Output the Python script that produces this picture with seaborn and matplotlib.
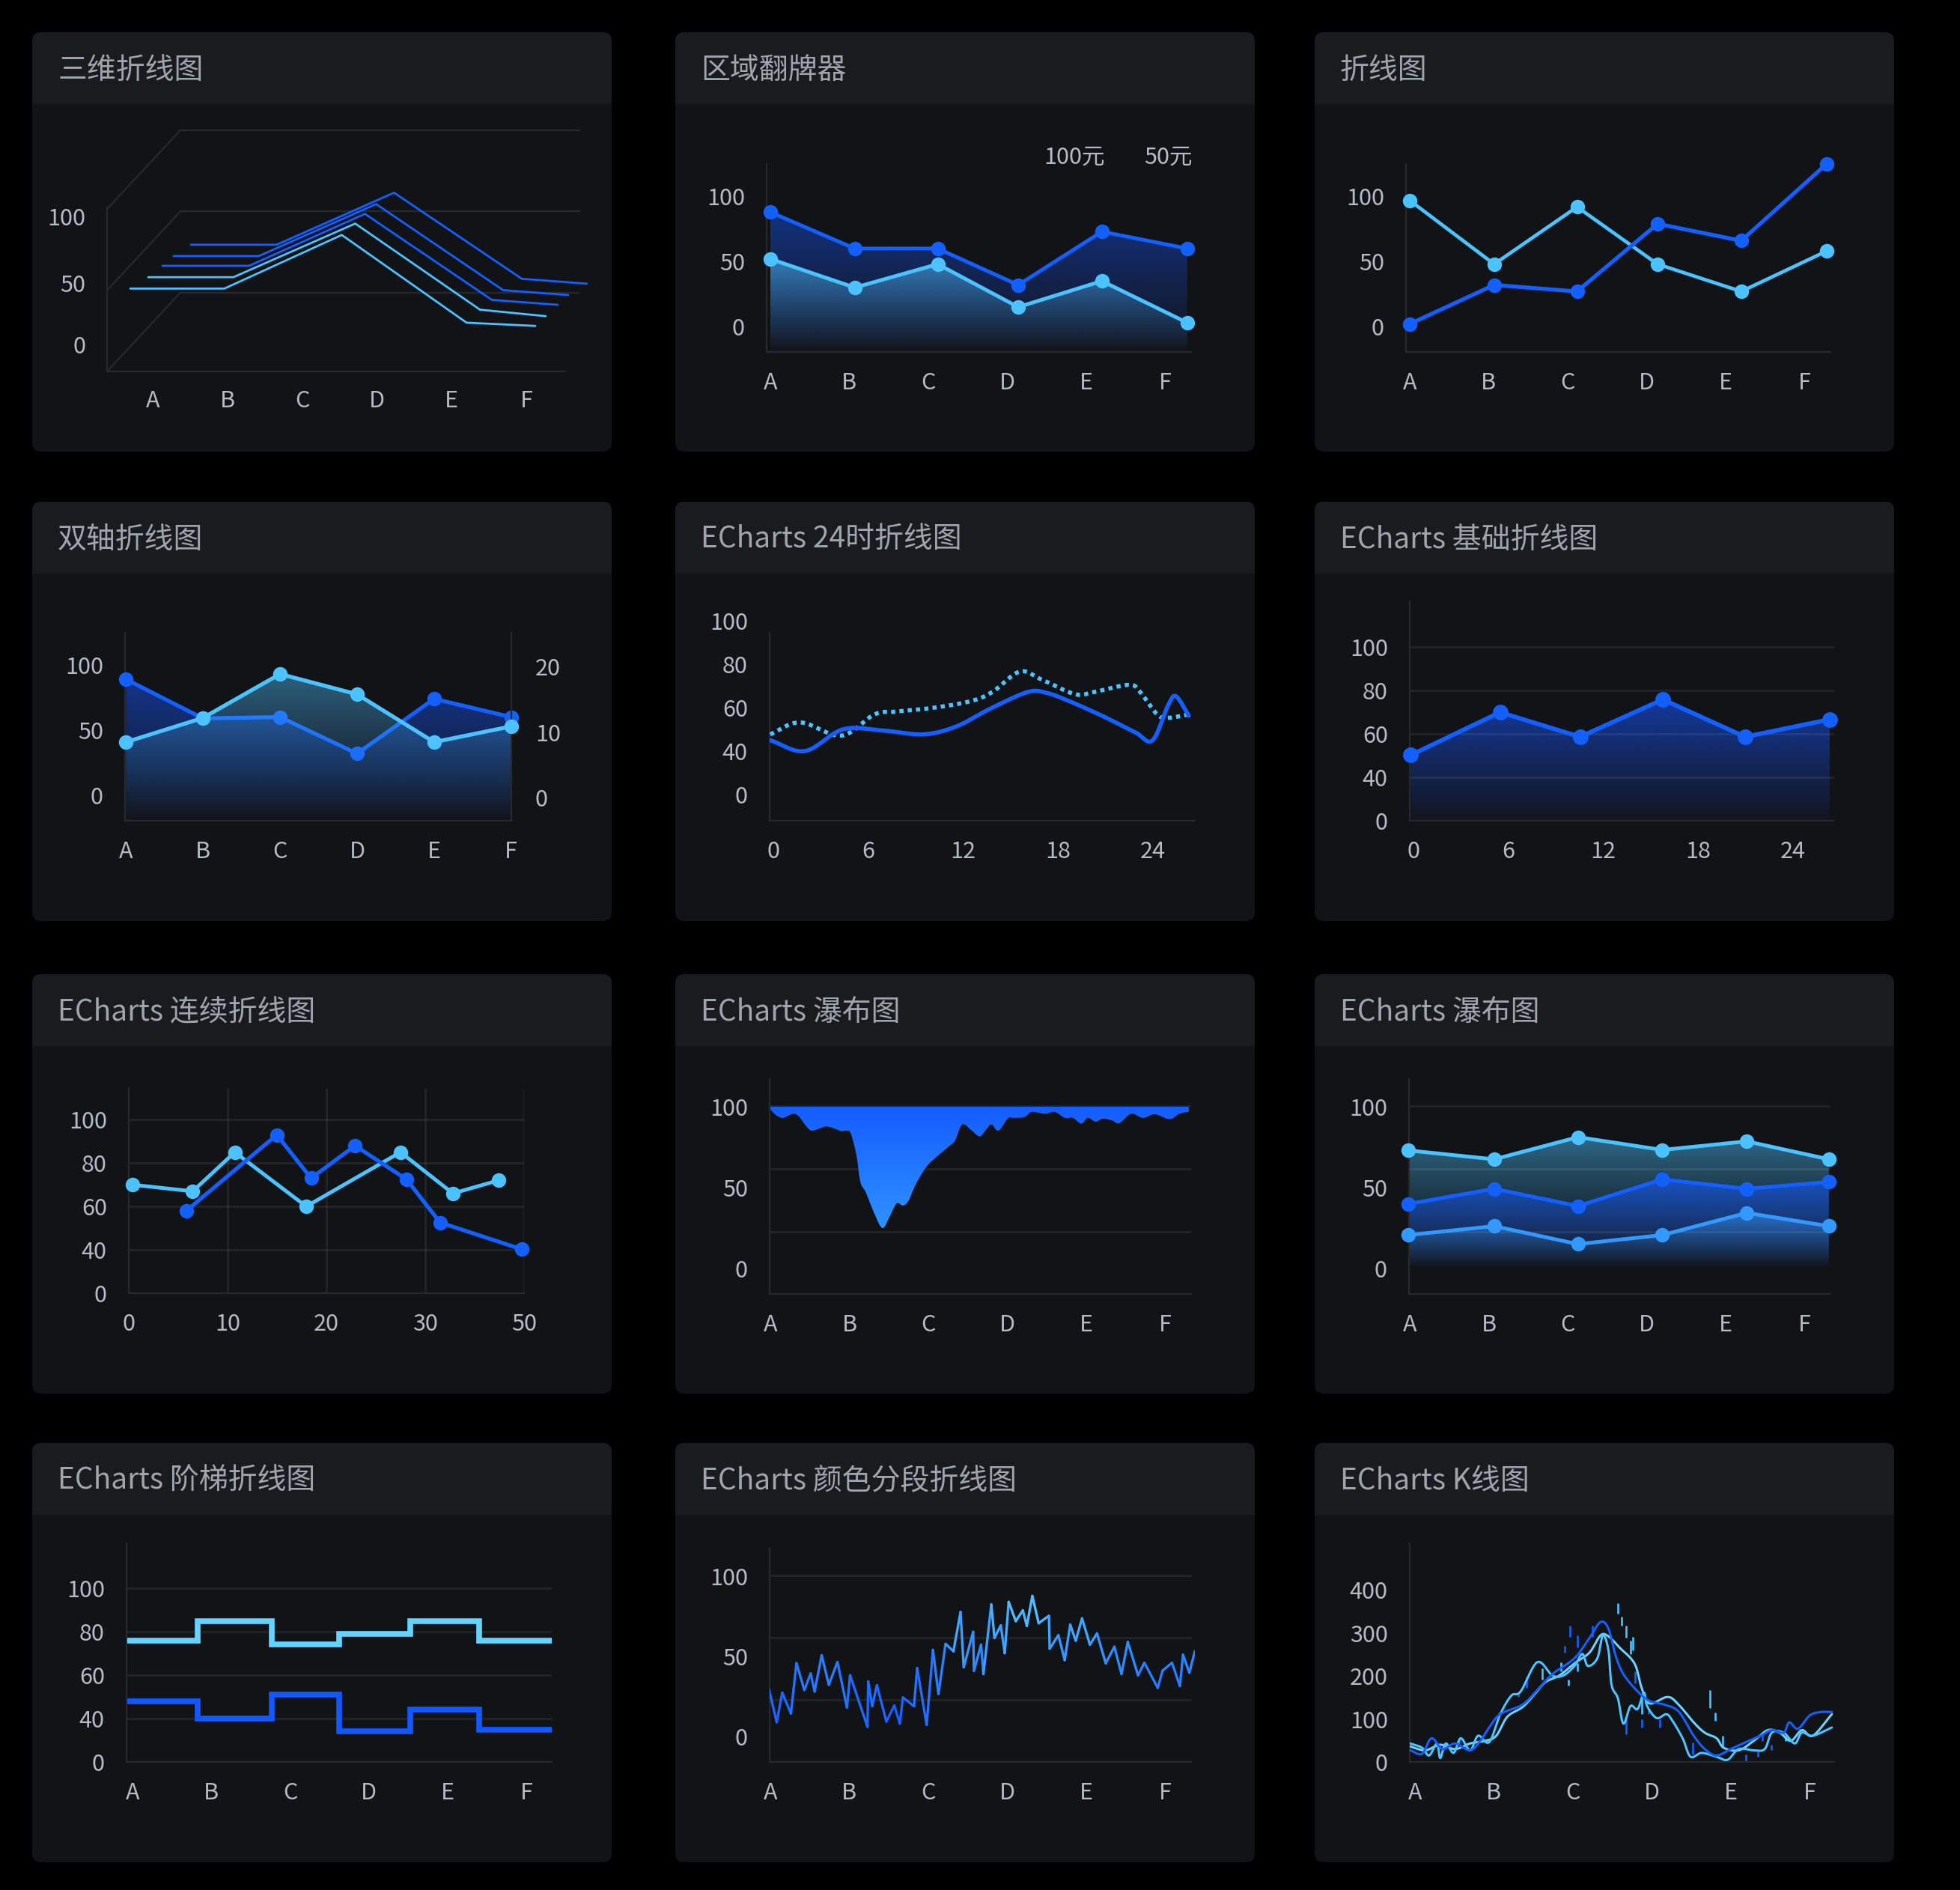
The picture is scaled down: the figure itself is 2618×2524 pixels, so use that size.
import numpy as np
import pandas as pd
import matplotlib
matplotlib.use('Agg')
import matplotlib.pyplot as plt
import matplotlib.colors as mcolors
from matplotlib.patches import FancyBboxPatch, Rectangle
from matplotlib.collections import LineCollection
import seaborn as sns

# ---------------- data ----------------
titles = ['三维折线图', '区域翻牌器', '折线图',
          '双轴折线图', 'ECharts 24时折线图', 'ECharts 基础折线图',
          'ECharts 连续折线图', 'ECharts 瀑布图', 'ECharts 瀑布图',
          'ECharts 阶梯折线图', 'ECharts 颜色分段折线图', 'ECharts K线图']
cats = ['A', 'B', 'C', 'D', 'E', 'F']

# 三维折线图 (oblique projection, front -> back)
line3d_x = [[-0.30, 0.96, 2.53, 4.20, 5.12],
            [-0.06, 1.08, 2.71, 4.38, 5.26],
            [0.13, 1.29, 2.84, 4.54, 5.42],
            [0.28, 1.42, 2.99, 4.69, 5.56],
            [0.51, 1.66, 3.23, 4.94, 5.81]]
line3d_y = [[51, 51, 84, 30, 28],
            [58, 58, 91, 38, 34],
            [65, 65, 97, 44, 41],
            [71, 71, 103, 50, 47],
            [78, 78, 110, 57, 54]]
frame_levels = [0, 50, 100]
frame3d_labels = ['0', '50', '100']
frame3d_label_y = [15, 53, 94]

# 区域翻牌器 / 折线图
pts_x = [0, 1.07, 2.12, 3.14, 4.2, 5.28]
flip_high = [88, 60, 60, 32, 73, 60]
flip_low = [52, 30, 48, 15, 35, 3]
line_cyan = [97, 48, 92, 48, 27, 58]
line_blue = [2, 32, 27, 79, 66, 125]

# 双轴折线图
dual_x = [0, 1, 2, 3, 4, 5]
dual_left = [89, 59, 60, 32, 74, 60]
dual_right = [8.5, 12.2, 18.9, 15.8, 8.5, 10.9]

# 24时折线图
h24_solid_x = [-0.2, 2.0, 4.4, 6.9, 9.5, 11.6, 13.7, 16.1, 17.3, 18.7, 20.8, 22.9, 24.0, 25.0, 25.5, 26.3]
h24_solid_y = [45, 40, 50, 49.5, 47.7, 51.4, 59.4, 67.2, 66.8, 63.1, 56.3, 48.7, 44.9, 61.2, 65.2, 56.3]
h24_dot_x = [-0.2, 1.7, 4.3, 6.4, 7.8, 10.2, 12.55, 13.9, 15.6, 17.0, 19.1, 20.3, 22.5, 23.2, 24.3, 25.0, 26.3]
h24_dot_y = [47.7, 53.2, 47.1, 56.9, 58.2, 60.0, 63.1, 67.4, 76.6, 72.9, 66.2, 67.2, 70.5, 67.4, 56.9, 55.3, 56.9]
hour_ticks = [0, 6, 12, 18, 24]
y5_ticks = [20, 40, 60, 80, 100]
y5_labels = ['0', '40', '60', '80', '100']

# 基础折线图
basic_x = [-0.17, 5.48, 10.55, 15.79, 21.0, 26.35]
basic_y = [50.2, 69.9, 58.6, 75.8, 58.6, 66.6]

# 连续折线图
cont_cyan_x = [0.36, 6.47, 10.73, 17.96, 27.5, 32.8, 37.4]
cont_cyan_y = [70, 67, 85, 60, 85, 66, 72]
cont_blue_x = [5.83, 14.98, 18.45, 22.9, 28.1, 31.5, 39.8]
cont_blue_y = [58, 93, 73, 88, 72.5, 52.6, 40.2]
cont_xticks = [0, 10, 20, 30, 40]
cont_xlabels = ['0', '10', '20', '30', '50']

# 瀑布图 (area hanging from 100)
fall_x = [-0.02, 0.05, 0.14, 0.19, 0.29, 0.36, 0.45, 0.52, 0.62, 0.71, 0.81, 0.90, 0.97, 1.02,
          1.09, 1.14, 1.21, 1.32, 1.42, 1.51, 1.60, 1.68, 1.75, 1.84, 1.98, 2.13, 2.27, 2.34,
          2.43, 2.54, 2.65, 2.73, 2.80, 2.89, 3.01, 3.08, 3.22, 3.31, 3.48, 3.60, 3.73, 3.83,
          3.94, 4.02, 4.12, 4.21, 4.33, 4.42, 4.57, 4.72, 4.87, 5.06, 5.18, 5.30]
fall_y = [99.8, 95.6, 93.1, 93.6, 95.6, 94.0, 88.2, 85.2, 86.5, 87.8, 86.5, 84.9, 85.2, 83.2,
          70.0, 53.5, 46.9, 33.6, 25.0, 32.0, 40.2, 38.9, 41.9, 51.8, 63.1, 70.0, 75.8, 79.1,
          89.0, 85.7, 81.6, 85.7, 89.0, 85.2, 92.8, 93.1, 93.6, 96.8, 95.6, 96.8, 93.1, 93.1,
          89.5, 93.1, 90.7, 92.6, 91.5, 89.8, 95.6, 93.1, 95.3, 92.3, 95.6, 96.9]
fall_grid = [100.5, 61.6, 22.7]

# 瀑布图 (three series)
stack_x = [-0.02, 1.07, 2.13, 3.20, 4.27, 5.31]
stack_top = [73.0, 67.5, 81.2, 73.3, 78.6, 67.5]
stack_mid = [39.9, 49.3, 38.6, 55.1, 49.3, 53.5]
stack_low = [20.7, 26.2, 15.1, 20.7, 34.4, 26.2]

# 阶梯折线图
step_edges = [-0.07, 0.83, 1.77, 2.62, 3.52, 4.40, 5.32]
step_cyan = [76, 85, 74, 79, 85, 76]
step_blue = [48, 40, 51, 34, 44, 35]

# 颜色分段折线图
seg_x = [-0.02, 0.08, 0.15, 0.26, 0.33, 0.43, 0.51, 0.56, 0.65, 0.74, 0.85, 0.97, 1.01, 1.23,
         1.24, 1.29, 1.35, 1.47, 1.57, 1.64, 1.68, 1.82, 1.86, 1.98, 2.06, 2.13, 2.22, 2.32,
         2.41, 2.45, 2.57, 2.58, 2.67, 2.70, 2.80, 2.84, 2.92, 2.97, 3.02, 3.11, 3.20, 3.25,
         3.32, 3.40, 3.53, 3.54, 3.65, 3.73, 3.80, 3.87, 3.95, 4.05, 4.14, 4.25, 4.36, 4.45,
         4.53, 4.66, 4.74, 4.91, 4.97, 5.09, 5.19, 5.23, 5.31, 5.38]
seg_y = [29.8, 8.9, 27.3, 14.3, 45.7, 29.0, 39.3, 28.1, 50.7, 32.3, 46.5, 18.1, 38.2, 6.0,
         34.3, 18.9, 32.0, 9.3, 19.3, 8.1, 24.3, 18.9, 42.7, 7.3, 54.0, 26.5, 57.8, 53.2,
         77.7, 43.2, 65.3, 41.0, 57.3, 39.0, 82.4, 61.5, 69.3, 52.0, 84.0, 72.0, 78.7, 69.0,
         87.7, 70.7, 75.3, 54.8, 63.2, 47.7, 69.8, 59.8, 73.7, 57.3, 64.3, 45.7, 56.0, 39.0,
         59.0, 38.2, 46.0, 30.3, 41.0, 46.0, 31.5, 51.0, 39.8, 53.2]

# K线图
ma1_x = [-0.06, 0.09, 0.21, 0.35, 0.51, 0.70, 0.84, 0.94, 1.08, 1.36, 1.55, 1.74, 2.02, 2.21,
         2.35, 2.45, 2.54, 2.64, 2.82, 2.97, 3.16, 3.34, 3.53, 3.67, 3.82, 4.00, 4.19, 4.38,
         4.52, 4.67, 4.74, 4.85, 5.00, 5.14, 5.28]
ma1_y = [27, 19, 55, 30, 43, 27, 52, 80, 111, 133, 167, 204, 241, 288, 325, 310, 248, 204,
         164, 142, 133, 117, 61, 30, 15, 30, 46, 61, 74, 68, 92, 77, 108, 116, 116]
ma2_x = [-0.06, 0.09, 0.18, 0.28, 0.32, 0.39, 0.49, 0.58, 0.70, 0.80, 0.94, 1.08, 1.22, 1.34,
         1.55, 1.74, 1.88, 2.02, 2.12, 2.19, 2.31, 2.38, 2.45, 2.49, 2.57, 2.64, 2.73, 2.82,
         2.90, 2.94, 3.06, 3.18, 3.25, 3.39, 3.49, 3.63, 3.82, 3.96, 4.10, 4.29, 4.43, 4.52,
         4.67, 4.81, 4.90, 5.04, 5.28]
ma2_y = [43, 33, 15, 43, 9, 43, 21, 55, 27, 61, 46, 111, 154, 164, 232, 201, 201, 223, 251,
         223, 241, 294, 260, 179, 148, 89, 130, 123, 161, 130, 102, 111, 99, 55, 12, 21, 12,
         5, 30, 27, 30, 68, 68, 43, 68, 61, 80]
ma3_x = [-0.06, 0.13, 0.32, 0.51, 0.70, 0.89, 1.03, 1.17, 1.36, 1.50, 1.65, 1.83, 2.02, 2.21,
         2.35, 2.45, 2.59, 2.78, 2.87, 2.97, 3.20, 3.34, 3.53, 3.67, 3.82, 3.91, 4.10, 4.29,
         4.47, 4.62, 4.76, 4.90, 5.04, 5.28]
ma3_y = [36, 27, 40, 30, 43, 49, 61, 105, 127, 154, 185, 201, 229, 254, 294, 292, 266, 229,
         173, 136, 151, 133, 92, 68, 55, 33, 27, 49, 74, 68, 49, 74, 61, 111]
k_x = [1.96, 2.06, 1.90, 2.25, 1.85, 1.94, 2.06, 1.61, 1.41, 1.31, 1.06, 2.57, 2.62, 2.67,
       2.73, 2.76, 2.79, 2.87, 2.96, 2.67, 2.87, 3.10, 3.74, 3.80, 3.90, 3.52, 4.19, 4.34,
       4.40, 4.51, 4.69, 0.56]
k_lo = [291, 266, 254, 291, 210, 178, 210, 192, 173, 151, 105, 344, 317, 288, 251, 260, 182,
        111, 111, 64, 80, 80, 126, 96, 36, 18, 2, 12, 49, 27, 49, 43]
k_hi = [316, 294, 269, 316, 232, 192, 229, 217, 198, 161, 114, 369, 338, 316, 282, 291, 210,
        158, 120, 99, 99, 99, 167, 114, 61, 46, 18, 25, 68, 40, 61, 55]
k_up = [0, 0, 0, 0, 1, 1, 1, 1, 0, 0, 0, 1, 1, 1, 1, 1, 0, 1, 0, 0, 0, 0, 1, 1, 1, 0, 0, 0,
        0, 0, 1, 0]

# ---------------- style ----------------
W, H = 2618, 2524
PX = [43, 902, 1756]
PY = [43, 670, 1301, 1927]
PW, PH, HDR = 774, 560, 96

BODY = '#121316'
HEAD = '#1a1b1e'
TITLE = '#9ea5af'
TICK = '#b4bbc6'
AXIS = '#27292d'
GRID = (1, 1, 1, 0.075)
BLUE = '#1360ff'
CYAN = '#4cc3ff'
LBLUE = '#3399ff'

sns.set_theme(style='dark', rc={'axes.facecolor': 'none', 'figure.facecolor': 'black',
                                'savefig.facecolor': 'black', 'axes.grid': False})
plt.rcParams['font.family'] = ['Noto Sans CJK SC', 'DejaVu Sans']
plt.rcParams['axes.unicode_minus'] = False

fig = plt.figure(figsize=(W / 100, H / 100), dpi=100)
bg = fig.add_axes([0, 0, 1, 1])
bg.set_xlim(0, W)
bg.set_ylim(H, 0)
bg.axis('off')

for i, t in enumerate(titles):
    c, r = i % 3, i // 3
    x0, y0 = PX[c], PY[r]
    bg.add_patch(FancyBboxPatch((x0, y0), PW, PH, boxstyle='round,pad=0,rounding_size=12',
                                fc=BODY, ec='none'))
    bg.add_patch(FancyBboxPatch((x0, y0), PW, HDR + 14, boxstyle='round,pad=0,rounding_size=12',
                                fc=HEAD, ec='none'))
    bg.add_patch(Rectangle((x0, y0 + HDR), PW, 16, fc=BODY, ec='none'))
    bg.text(x0 + 34, y0 + 51, t, fontsize=28, color=TITLE, ha='left', va='center')


def panel_ax(c, r, l, t, rr, b):
    x0, x1 = PX[c] + l, PX[c] + rr
    y0, y1 = PY[r] + t, PY[r] + b
    ax = fig.add_axes([x0 / W, 1 - y1 / H, (x1 - x0) / W, (y1 - y0) / H])
    ax.set_facecolor('none')
    return ax


def style(ax, xt, xl, yt, yl):
    for s in ('top', 'right'):
        ax.spines[s].set_visible(False)
    for s in ('left', 'bottom'):
        ax.spines[s].set_color(AXIS)
        ax.spines[s].set_linewidth(1.6)
    ax.set_xticks(xt, xl)
    ax.set_yticks(yt, yl)
    ax.tick_params(axis='both', length=0, labelsize=22, labelcolor=TICK)
    ax.tick_params(axis='x', pad=19)
    ax.tick_params(axis='y', pad=21)
    ax.grid(False)
    ax.set_xlabel('')
    ax.set_ylabel('')


def grad_fill(ax, x, y, base, c_top, c_bot, a_top, a_bot, y_top, y_bot, z=1.0):
    poly = ax.fill_between(x, y, base, facecolor='none', edgecolor='none')
    path = poly.get_paths()[0]
    t = np.linspace(0, 1, 256)
    img = np.zeros((256, 1, 4))
    img[:, 0, :3] = np.outer(1 - t, mcolors.to_rgb(c_top)) + np.outer(t, mcolors.to_rgb(c_bot))
    img[:, 0, 3] = a_top * (1 - t) + a_bot * t
    im = ax.imshow(img, extent=[min(x), max(x), y_bot, y_top], origin='upper',
                   aspect='auto', interpolation='bilinear', zorder=z)
    im.set_clip_path(path, transform=ax.transData)


def smooth(x, y, n=14):
    # catmull-rom rendering of the read points (like echarts smooth:true)
    x = np.asarray(x, float)
    y = np.asarray(y, float)
    px = np.r_[2 * x[0] - x[1], x, 2 * x[-1] - x[-2]]
    py = np.r_[2 * y[0] - y[1], y, 2 * y[-1] - y[-2]]
    t = np.linspace(0, 1, n, endpoint=False)
    xs, ys = [], []
    for i in range(len(x) - 1):
        for arr, out in ((px, xs), (py, ys)):
            p0, p1, p2, p3 = arr[i:i + 4]
            out.append(0.5 * (2 * p1 + (p2 - p0) * t + (2 * p0 - 5 * p1 + 4 * p2 - p3) * t ** 2
                              + (3 * p1 - p0 - 3 * p2 + p3) * t ** 3))
    xs.append([x[-1]])
    ys.append([y[-1]])
    return np.concatenate(xs), np.concatenate(ys)


mk = dict(marker='o', markersize=14, markeredgewidth=0, clip_on=False)

# ---- 1 三维折线图 ----
ax = panel_ax(0, 0, 60, 110, 770, 530)
fx, bdx, bdy = -0.61, 0.98, 48.5
for lv in frame_levels:
    ax.plot([fx, fx + bdx], [lv, lv + bdy], color=AXIS, lw=1.6)
    ax.plot([fx + bdx, 5.71], [lv + bdy, lv + bdy], color=AXIS, lw=1.6)
ax.plot([fx, fx], [0, 101], color=AXIS, lw=1.6)
ax.plot([fx, 5.52], [0, 0], color=AXIS, lw=1.6)
cols3d = [CYAN, CYAN, BLUE, BLUE, BLUE]
for xs, ys, col in zip(line3d_x, line3d_y, cols3d):
    sns.lineplot(x=xs, y=ys, ax=ax, color=col, lw=2.0, legend=False)
for lab, yy in zip(frame3d_labels, frame3d_label_y):
    ax.text(-0.90, yy, lab, ha='right', va='center', fontsize=22, color=TICK)
for i, lab in enumerate(cats):
    ax.text(i, -18.4, lab, ha='center', va='center', fontsize=22, color=TICK)
ax.set_xlim(-1.012, 6.102)
ax.set_ylim(-35.5, 158.1)
ax.axis('off')

# ---- 2 区域翻牌器 ----
ax = panel_ax(1, 0, 122, 176, 689, 427)
grad_fill(ax, pts_x, flip_high, -19.5, '#1450e8', '#1450e8', 0.5, 0.02, max(flip_high), -19.5)
grad_fill(ax, pts_x, flip_low, -19.5, '#4cb4f0', '#3a8ad0', 0.62, 0.0, max(flip_low), -19.5, z=1.1)
sns.lineplot(x=pts_x, y=flip_high, ax=ax, color=BLUE, lw=3.6, legend=False, zorder=3, **mk)
sns.lineplot(x=pts_x, y=flip_low, ax=ax, color=CYAN, lw=3.6, legend=False, zorder=3, **mk)
style(ax, range(6), cats, [0, 50, 100], ['0', '50', '100'])
ax.set_xlim(-0.047, 5.33)
ax.set_ylim(-19.5, 125)
bg.text(PX[1] + 533, PY[0] + 167, '100元', ha='center', va='center', fontsize=22, color=TICK)
bg.text(PX[1] + 658, PY[0] + 167, '50元', ha='center', va='center', fontsize=22, color=TICK)

# ---- 3 折线图 ----
ax = panel_ax(2, 0, 122, 176, 689, 427)
sns.lineplot(x=pts_x, y=line_cyan, ax=ax, color=CYAN, lw=3.4, legend=False, zorder=3, **mk)
sns.lineplot(x=pts_x, y=line_blue, ax=ax, color=BLUE, lw=3.8, legend=False, zorder=3, **mk)
style(ax, range(6), cats, [0, 50, 100], ['0', '50', '100'])
ax.set_xlim(-0.047, 5.33)
ax.set_ylim(-19.5, 125)

# ---- 4 双轴折线图 ----
ax = panel_ax(0, 1, 124, 175, 640, 426)
grad_fill(ax, dual_x, dual_left, -19.5, '#1450e8', '#1450e8', 0.55, 0.03, max(dual_left), -19.5)
sns.lineplot(x=dual_x, y=dual_left, ax=ax, color=BLUE, lw=3.8, legend=False, zorder=3, **mk)
style(ax, range(6), cats, [0, 50, 100], ['0', '50', '100'])
ax.set_xlim(-0.012, 5.002)
ax.set_ylim(-19.5, 124.7)
ax2 = ax.twinx()
ax2.set_facecolor('none')
grad_fill(ax2, dual_x, dual_right, -3.5, '#4cc3ff', '#3a8ad0', 0.45, 0.0, max(dual_right), -3.5)
sns.lineplot(x=dual_x, y=dual_right, ax=ax2, color=CYAN, lw=3.8, legend=False, zorder=3, **mk)
for s in ('top', 'left', 'bottom'):
    ax2.spines[s].set_visible(False)
ax2.spines['right'].set_color(AXIS)
ax2.spines['right'].set_linewidth(1.6)
ax2.set_yticks([0, 10, 20], ['0', '10', '20'])
ax2.tick_params(axis='y', length=0, labelsize=22, labelcolor=TICK, pad=23)
ax2.grid(False)
ax2.set_ylabel('')
ax2.set_ylim(-3.5, 25.2)
ax2.set_xlim(-0.012, 5.002)

# ---- 5 24时折线图 ----
ax = panel_ax(1, 1, 126, 155, 693, 426)
sx, sy = smooth(h24_dot_x, h24_dot_y)
ax.plot(sx, sy, color=CYAN, lw=4, linestyle=(0, (1, 1)), dash_capstyle='butt', zorder=3)
sx, sy = smooth(h24_solid_x, h24_solid_y)
ax.plot(sx, sy, color=BLUE, lw=4, solid_capstyle='round', zorder=3)
style(ax, hour_ticks, [str(v) for v in hour_ticks], y5_ticks, y5_labels)
ax.set_xlim(-0.237, 26.64)
ax.set_ylim(7.93, 101.4)
ax.spines['left'].set_bounds(7.93, 94.5)

# ---- 6 基础折线图 ----
ax = panel_ax(2, 1, 127, 133, 694, 426)
grad_fill(ax, basic_x, basic_y, 20, '#1652f0', '#1652f0', 0.62, 0.04, max(basic_y), 20)
ax.hlines(y5_ticks[1:], -0.237, 26.64, color=GRID, lw=2, zorder=1.5)
sns.lineplot(x=basic_x, y=basic_y, ax=ax, color=BLUE, lw=4.2, legend=False, zorder=3,
             marker='o', markersize=15, markeredgewidth=0, clip_on=False)
style(ax, hour_ticks, [str(v) for v in hour_ticks], y5_ticks, y5_labels)
ax.set_xlim(-0.237, 26.64)
ax.set_ylim(20, 121)

# ---- 7 连续折线图 ----
ax = panel_ax(0, 2, 129, 152, 657, 426)
ax.hlines(y5_ticks[1:], 0, 40, color=GRID, lw=2, zorder=1)
ax.vlines(cont_xticks[1:], 20, 114.6, color=GRID, lw=2, zorder=1)
sns.lineplot(x=cont_cyan_x, y=cont_cyan_y, ax=ax, color=CYAN, lw=3.6, legend=False, zorder=3, **mk)
sns.lineplot(x=cont_blue_x, y=cont_blue_y, ax=ax, color=BLUE, lw=3.8, legend=False, zorder=3, **mk)
style(ax, cont_xticks, cont_xlabels, y5_ticks, y5_labels)
ax.set_xlim(0, 40)
ax.set_ylim(20, 114.6)

# ---- 8 瀑布图 area ----
ax = panel_ax(1, 2, 126, 140, 689, 427)
ax.hlines(fall_grid, -0.01, 5.33, color=GRID, lw=2, zorder=0.8)
sx, sy = smooth(fall_x, fall_y, n=10)
grad_fill(ax, sx, sy, 100, '#145cff', '#2f92ff', 1.0, 1.0, 100, min(sy), z=2)
style(ax, range(6), cats, [0, 50, 100], ['0', '50', '100'])
ax.set_xlim(-0.01, 5.33)
ax.set_ylim(-15.7, 117.1)

# ---- 9 瀑布图 lines ----
ax = panel_ax(2, 2, 126, 140, 689, 427)
grad_fill(ax, stack_x, stack_top, 0, '#4cc3ff', '#2a6a8a', 0.5, 0.0, max(stack_top), 0)
grad_fill(ax, stack_x, stack_mid, 0, '#1458ff', '#1458ff', 0.62, 0.0, max(stack_mid), 0, z=1.1)
grad_fill(ax, stack_x, stack_low, 0, '#3a9cff', '#2a70c8', 0.55, 0.0, max(stack_low), 0, z=1.2)
ax.hlines(fall_grid, -0.01, 5.33, color=GRID, lw=2, zorder=1.5)
sns.lineplot(x=stack_x, y=stack_top, ax=ax, color=CYAN, lw=3.6, legend=False, zorder=3, **mk)
sns.lineplot(x=stack_x, y=stack_mid, ax=ax, color=BLUE, lw=3.6, legend=False, zorder=3, **mk)
sns.lineplot(x=stack_x, y=stack_low, ax=ax, color=LBLUE, lw=3.6, legend=False, zorder=3, **mk)
style(ax, range(6), cats, [0, 50, 100], ['0', '50', '100'])
ax.set_xlim(-0.01, 5.33)
ax.set_ylim(-15.7, 117.1)

# ---- 10 阶梯折线图 ----
ax = panel_ax(0, 3, 126, 134, 694, 426)
ax.hlines(y5_ticks[1:], -0.076, 5.32, color=GRID, lw=2, zorder=1)
ax.plot(step_edges, step_cyan + step_cyan[-1:], drawstyle='steps-post', color='#63d3ff',
        lw=5.5, solid_joinstyle='miter', solid_capstyle='butt', zorder=3)
ax.plot(step_edges, step_blue + step_blue[-1:], drawstyle='steps-post', color='#1158ff',
        lw=5.5, solid_joinstyle='miter', solid_capstyle='butt', zorder=3)
style(ax, range(6), cats, y5_ticks, y5_labels)
ax.set_xlim(-0.076, 5.32)
ax.set_ylim(20, 120.7)

# ---- 11 颜色分段折线图 ----
ax = panel_ax(1, 3, 126, 141, 694, 426)
ax.hlines(fall_grid, -0.01, 5.33, color=GRID, lw=2, zorder=1)
pts = np.column_stack([seg_x, seg_y])
segs = np.stack([pts[:-1], pts[1:]], axis=1)
cmap = mcolors.LinearSegmentedColormap.from_list('seg', ['#1454ff', '#2a86ff', '#5ccbff'])
lc = LineCollection(segs, cmap=cmap, norm=mcolors.Normalize(5, 88), lw=2.4,
                    capstyle='round', joinstyle='round', zorder=3)
lc.set_array((pts[:-1, 1] + pts[1:, 1]) / 2)
ax.add_collection(lc)
style(ax, range(6), cats, [0, 50, 100], ['0', '50', '100'])
ax.set_xlim(-0.01, 5.38)
ax.set_ylim(-15.9, 117.3)
ax.spines['bottom'].set_bounds(-0.01, 5.33)

# ---- 12 K线图 ----
ax = panel_ax(2, 3, 127, 134, 694, 426)
kcol = [CYAN if u else BLUE for u in k_up]
ax.vlines(k_x, k_lo, k_hi, colors=kcol, lw=1.9, zorder=2)
for xs, ys, col in ((ma3_x, ma3_y, '#6ad2ff'), (ma2_x, ma2_y, '#4cc3ff'), (ma1_x, ma1_y, BLUE)):
    sx, sy = smooth(xs, ys, n=10)
    ax.plot(sx, sy, color=col, lw=2.2, zorder=3)
style(ax, range(6), cats, [0, 100, 200, 300, 400], ['0', '100', '200', '300', '400'])
ax.set_xlim(-0.066, 5.31)
ax.set_ylim(0, 508)

fig.savefig('out.png', dpi=100, facecolor='black')
